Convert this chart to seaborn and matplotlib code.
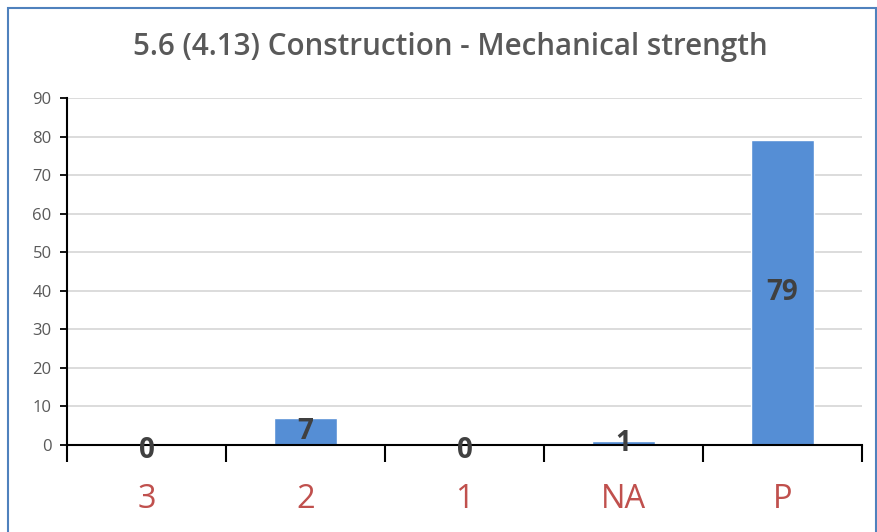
import matplotlib
matplotlib.use("Agg")
import matplotlib.pyplot as plt
import seaborn as sns
import pandas as pd
from matplotlib.patches import Rectangle

categories = ["3", "2", "1", "NA", "P"]
counts = [0, 7, 0, 1, 79]
title = "5.6 (4.13) Construction - Mechanical strength"

df = pd.DataFrame({"cat": categories, "count": counts})

sns.set_theme(style="white")
plt.rcParams['font.family'] = ['Open Sans', 'DejaVu Sans']

fig = plt.figure(figsize=(8.78, 5.32), dpi=100)
ax = fig.add_axes([67/878, 1-445/532, (862-67)/878, (445-98)/532])

sns.barplot(data=df, x="cat", y="count", color="#558ED5", width=0.4, ax=ax,
            saturation=1, zorder=3)

ax.set_ylim(0, 90)
ax.set_xlim(-0.5, len(categories)-0.5)
ax.set_yticks(range(0, 91, 10))
ax.yaxis.grid(True, color="#D9D9D9", linewidth=1.3, zorder=0)
ax.xaxis.grid(False)
ax.set_axisbelow(True)

for s in ["top", "right"]:
    ax.spines[s].set_visible(False)
for s in ["left", "bottom"]:
    ax.spines[s].set_color("black")
    ax.spines[s].set_linewidth(1.5)
    ax.spines[s].set_zorder(4)

ax.set_xlabel("")
ax.set_ylabel("")
ax.tick_params(axis="y", which="major", left=True, length=5, width=1.3,
               color="black", labelsize=12, labelcolor="#595959", pad=6)
ax.set_xticks(range(len(categories)))
ax.set_xticklabels(categories)
ax.tick_params(axis="x", which="major", bottom=False, labelsize=23.5,
               labelcolor="#C0504D", pad=21)
ax.set_xticks([i - 0.5 for i in range(len(categories)+1)], minor=True)
ax.tick_params(axis="x", which="minor", bottom=True, length=12, width=1.5,
               color="black")

for i, v in enumerate(counts):
    ax.text(i, v/2 if v > 0 else -1.3, str(v), ha="center", va="center",
            fontsize=20, fontweight="bold", color="#404040", zorder=5)

fig.text(450/878, 1-47/532, title, ha="center", va="center", fontsize=21.3,
         fontweight="semibold", color="#595959")

fig.patches.append(Rectangle((8/878, -0.02), (876-8)/878, 1-8/532+0.02,
                             transform=fig.transFigure, fill=False,
                             edgecolor="#4F81BD", linewidth=1.5))

fig.savefig("out.png", dpi=100)
